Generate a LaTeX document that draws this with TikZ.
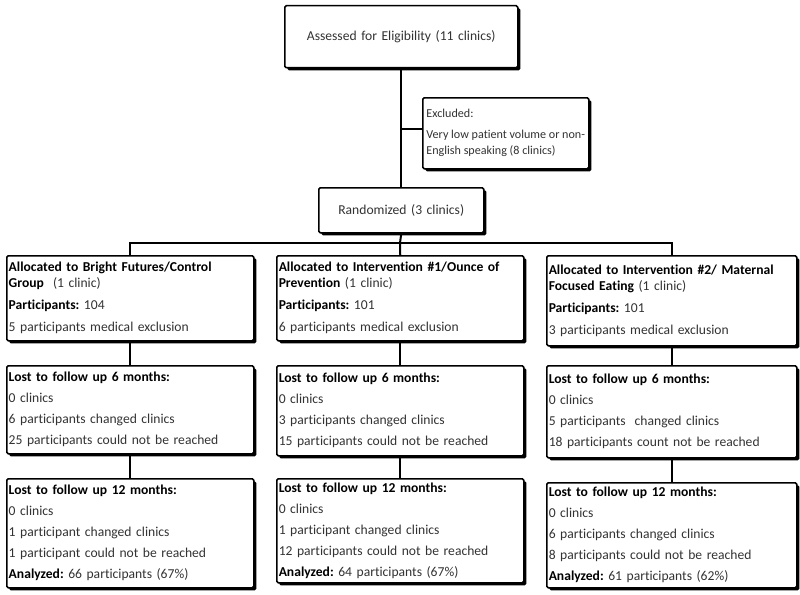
\documentclass[tikz,border=0pt]{standalone}
\usepackage{fontspec}
\setmainfont{Carlito}[Ligatures=NoCommon]
\usetikzlibrary{shadows}
\newcommand\hd[1]{\textcolor{black}{\bfseries #1}}
\frenchspacing
\begin{document}
\frenchspacing
\begin{tikzpicture}[x=1pt,y=-1pt,
  box/.style={draw=black, line width=1.5pt, fill=white, rounded corners=1.5pt,
    anchor=north west, inner sep=0pt, align=left,
    font=\fontsize{13.6}{16}\selectfont\frenchspacing, text=black!80,
    drop shadow={shadow xshift=2.5pt, shadow yshift=-2.5pt, fill=black, opacity=1}},
  cbox/.style={box, align=center},
  conn/.style={line width=2pt}]
\useasboundingbox[fill=white] (0,0) rectangle (800,594);

\node[cbox, minimum width=233pt, minimum height=62pt, text width=225pt] (top) at (284,5) {Assessed for Eligibility (11 clinics)};
\node[box, minimum width=166pt, minimum height=71pt, inner xsep=2pt, font=\fontsize{12.1}{16.5}\selectfont\frenchspacing] (excl) at (422,97)
  {Excluded:\\[4pt] Very low patient volume or non-\\ English speaking (8 clinics)};
\node[cbox, minimum width=165pt, minimum height=45pt, text width=157pt] (rand) at (318,187) {Randomized (3 clinics)};

\node[box, minimum width=247pt, minimum height=85pt, text width=243pt] (a1) at (6,255)
  {\hd{Allocated to Bright Futures/Control}\\ \hd{Group}~~(1 clinic)\\[6pt] \hd{Participants:} 104\\[6pt] 5 participants medical exclusion};
\node[box, minimum width=247pt, minimum height=85pt, text width=243pt] (a2) at (276,255)
  {\hd{Allocated to Intervention \#1/Ounce of}\\ \hd{Prevention} (1 clinic)\\[6pt] \hd{Participants:} 101\\[6pt] 6 participants medical exclusion};
\node[box, minimum width=250pt, minimum height=90pt, text width=246pt] (a3) at (546,255)
  {\hd{Allocated to Intervention \#2/ Maternal}\\ \hd{Focused Eating} (1 clinic)\\[6pt] \hd{Participants:} 101\\[6pt] 3 participants medical exclusion};

\node[box, minimum width=247pt, minimum height=88pt, text width=243pt] (s1) at (6,365)
  {\hd{Lost to follow up 6 months:}\\[5pt] 0 clinics\\[5pt] 6 participants changed clinics\\[5pt] 25 participants could not be reached};
\node[box, minimum width=247pt, minimum height=90pt, text width=243pt] (s2) at (276,365)
  {\hd{Lost to follow up 6 months:}\\[5pt] 0 clinics\\[5pt] 3 participants changed clinics\\[5pt] 15 participants could not be reached};
\node[box, minimum width=250pt, minimum height=92pt, text width=246pt] (s3) at (546,365)
  {\hd{Lost to follow up 6 months:}\\[5pt] 0 clinics\\[5pt] 5 participants~~changed clinics\\[5pt] 18 participants count not be reached};

\node[box, minimum width=247pt, minimum height=109pt, text width=243pt] (t1) at (6,478)
  {\hd{Lost to follow up 12 months:}\\[5pt] 0 clinics\\[5pt] 1 participant changed clinics\\[5pt] 1 participant could not be reached\\[5pt] \hd{Analyzed:} 66 participants (67\%)};
\node[box, minimum width=247pt, minimum height=104pt, text width=243pt] (t2) at (276,478)
  {\hd{Lost to follow up 12 months:}\\[5pt] 0 clinics\\[5pt] 1 participant changed clinics\\[5pt] 12 participants could not be reached\\[5pt] \hd{Analyzed:} 64 participants (67\%)};
\node[box, minimum width=250pt, minimum height=105pt, text width=246pt] (t3) at (546,482)
  {\hd{Lost to follow up 12 months:}\\[5pt] 0 clinics\\[5pt] 6 participants changed clinics\\[5pt] 8 participants could not be reached\\[5pt] \hd{Analyzed:} 61 participants (62\%)};

\coordinate (ex) at (400,129);
\coordinate (br) at (400,243);
\draw[conn] (top.south) -- (rand.north);
\draw[conn] (ex) -- (ex -| excl.west);
\draw[conn] (rand.south) -- (br);
\draw[conn] (a1.north) -- (a1.north |- br) -- (a3.north |- br) -- (a3.north);
\draw[conn] (br) -- (a2.north);
\foreach \c in {1,2,3} {
  \draw[conn] (a\c.south) -- (s\c.north);
  \draw[conn] (s\c.south) -- (t\c.north);
}
\end{tikzpicture}
\end{document}
